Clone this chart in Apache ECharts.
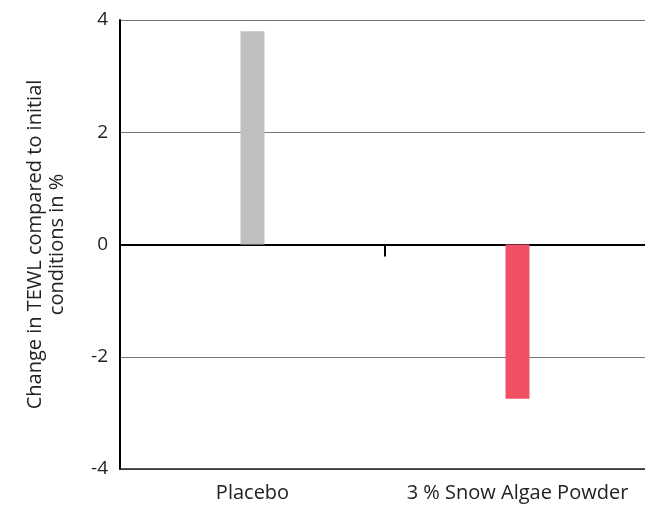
<!DOCTYPE html>
<html><head><meta charset="utf-8">
<script src="https://cdn.jsdelivr.net/npm/echarts@6/dist/echarts.min.js"></script>
<style>html,body{margin:0;padding:0;background:#fff}#c{width:645px;height:506px}</style>
</head><body><div id="c"></div>
<script>
const categories = ['Placebo', '3 % Snow Algae Powder'];
const values = [3.8, -2.75];
const barColors = ['#BEBFC1', '#F05064'];
const yTicks = { min: -4, max: 4, interval: 2 };
const yTitle = 'Change in TEWL compared to initial\nconditions in %';

const chart = echarts.init(document.getElementById('c'));
const font = '"Open Sans", "Noto Sans", sans-serif';
chart.setOption({
  animation: false,
  grid: { left: 120, width: 530, top: 20, bottom: 37, outerBoundsMode: 'none', containLabel: false },
  xAxis: [{
    type: 'category', data: categories, position: 'bottom',
    axisLine: { onZero: true, lineStyle: { color: '#000', width: 2 } },
    axisTick: { show: true, length: 12, lineStyle: { color: '#000', width: 2 } },
    axisLabel: { show: false }
  }, {
    type: 'category', data: categories, position: 'bottom',
    axisLine: { onZero: false, lineStyle: { color: '#222', width: 1.5 } },
    axisTick: { show: false },
    axisLabel: { color: '#222', fontSize: 20, fontFamily: font, margin: 14, interval: 0, hideOverlap: false }
  }],
  yAxis: {
    type: 'value', min: yTicks.min, max: yTicks.max, interval: yTicks.interval,
    axisLine: { show: true, lineStyle: { color: '#000', width: 2 } },
    axisTick: { show: false },
    axisLabel: { color: '#222', fontSize: 19, fontFamily: font, margin: 12 },
    splitLine: { lineStyle: { color: '#777', width: 1 } },
    name: yTitle, nameLocation: 'middle', nameGap: 52, nameRotate: 90,
    nameTextStyle: { color: '#222', fontSize: 20, fontFamily: font, lineHeight: 22 }
  },
  series: [{
    type: 'bar', barWidth: 24, xAxisIndex: 0,
    data: values.map((v, i) => ({ value: v, itemStyle: { color: barColors[i] } }))
  }]
});
</script></body></html>
